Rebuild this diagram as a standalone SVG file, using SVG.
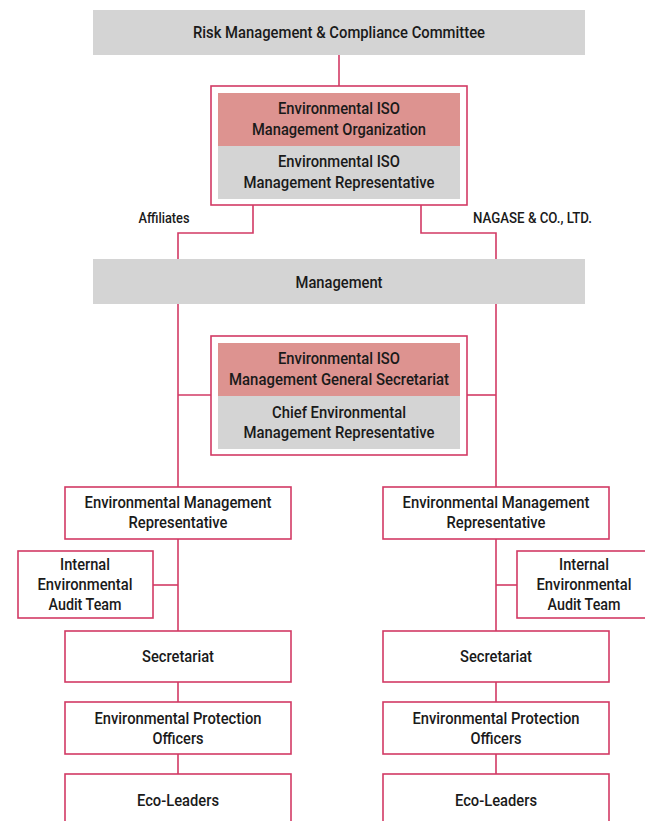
<svg xmlns="http://www.w3.org/2000/svg" width="645" height="821" viewBox="0 0 645 821">
<style>
text{font-family:Roboto,"Liberation Sans",sans-serif;font-weight:500;font-size:16.5px;fill:#1a1a1a;text-anchor:middle;dominant-baseline:central;lengthAdjust:spacingAndGlyphs}
.lbl{font-size:14.5px}
.gray{fill:#d4d4d4}
.pink{fill:#dd9390}
.frame{fill:#fff;stroke:#d23a64;stroke-width:1.6}
.box{fill:#fff;stroke:#d23a64;stroke-width:1.6}
.ln{fill:none;stroke:#d23a64;stroke-width:1.6}
</style>
<g id="connectors">
<path class="ln" d="M339 55V86"/>
<path class="ln" d="M253 205V233H178V259"/>
<path class="ln" d="M421 205V233H496V259"/>
<path class="ln" d="M178 304V487"/>
<path class="ln" d="M496 304V487"/>
<path class="ln" d="M178 395H211"/>
<path class="ln" d="M467 395H496"/>
<path class="ln" d="M178 539V631"/>
<path class="ln" d="M153 585H178"/>
<path class="ln" d="M496 539V631"/>
<path class="ln" d="M496 585H517"/>
<path class="ln" d="M178 682V702M178 754V774"/>
<path class="ln" d="M496 682V702M496 754V774"/>
</g>
<g id="risk">
<rect class="gray" x="93" y="10" width="492" height="45"/>
<text x="339" y="32" textLength="292" lengthAdjust="spacingAndGlyphs">Risk Management &amp; Compliance Committee</text>
</g>
<g id="iso-org">
<rect class="frame" x="211" y="86" width="256" height="119"/>
<rect class="pink" x="218" y="93" width="242" height="53"/>
<rect class="gray" x="218" y="146" width="242" height="53"/>
<text x="339" y="108" textLength="122" lengthAdjust="spacingAndGlyphs">Environmental ISO</text>
<text x="339" y="129" textLength="174" lengthAdjust="spacingAndGlyphs">Management Organization</text>
<text x="339" y="161" textLength="122" lengthAdjust="spacingAndGlyphs">Environmental ISO</text>
<text x="339" y="182" textLength="191" lengthAdjust="spacingAndGlyphs">Management Representative</text>
</g>
<g id="labels">
<text class="lbl" x="164" y="218" textLength="51" lengthAdjust="spacingAndGlyphs">Affiliates</text>
<text class="lbl" x="532.5" y="218" textLength="119" lengthAdjust="spacingAndGlyphs">NAGASE &amp; CO., LTD.</text>
</g>
<g id="management">
<rect class="gray" x="93" y="259" width="492" height="45"/>
<text x="339" y="282" textLength="87" lengthAdjust="spacingAndGlyphs">Management</text>
</g>
<g id="iso-secretariat">
<rect class="frame" x="211" y="336" width="256" height="119"/>
<rect class="pink" x="218" y="343" width="242" height="53"/>
<rect class="gray" x="218" y="396" width="242" height="53"/>
<text x="339" y="358" textLength="122" lengthAdjust="spacingAndGlyphs">Environmental ISO</text>
<text x="339" y="379" textLength="220" lengthAdjust="spacingAndGlyphs">Management General Secretariat</text>
<text x="339" y="412" textLength="134" lengthAdjust="spacingAndGlyphs">Chief Environmental</text>
<text x="339" y="432" textLength="191" lengthAdjust="spacingAndGlyphs">Management Representative</text>
</g>
<g id="emr-left">
<rect class="box" x="65" y="487" width="226" height="52"/>
<text x="178" y="502" textLength="187" lengthAdjust="spacingAndGlyphs">Environmental Management</text>
<text x="178" y="522" textLength="99" lengthAdjust="spacingAndGlyphs">Representative</text>
</g>
<g id="emr-right">
<rect class="box" x="383" y="487" width="226" height="52"/>
<text x="496" y="502" textLength="187" lengthAdjust="spacingAndGlyphs">Environmental Management</text>
<text x="496" y="522" textLength="99" lengthAdjust="spacingAndGlyphs">Representative</text>
</g>
<g id="audit-left">
<rect class="box" x="18" y="551" width="135" height="67"/>
<text x="85" y="564" textLength="50" lengthAdjust="spacingAndGlyphs">Internal</text>
<text x="85" y="584" textLength="95" lengthAdjust="spacingAndGlyphs">Environmental</text>
<text x="85" y="604" textLength="73" lengthAdjust="spacingAndGlyphs">Audit Team</text>
</g>
<g id="audit-right">
<rect class="box" x="517" y="551" width="135" height="67"/>
<text x="584" y="564" textLength="50" lengthAdjust="spacingAndGlyphs">Internal</text>
<text x="584" y="584" textLength="95" lengthAdjust="spacingAndGlyphs">Environmental</text>
<text x="584" y="604" textLength="73" lengthAdjust="spacingAndGlyphs">Audit Team</text>
</g>
<g id="sec-left">
<rect class="box" x="65" y="631" width="226" height="51"/>
<text x="178" y="656" textLength="72" lengthAdjust="spacingAndGlyphs">Secretariat</text>
</g>
<g id="sec-right">
<rect class="box" x="383" y="631" width="226" height="51"/>
<text x="496" y="656" textLength="72" lengthAdjust="spacingAndGlyphs">Secretariat</text>
</g>
<g id="epo-left">
<rect class="box" x="65" y="702" width="226" height="52"/>
<text x="178" y="718" textLength="167" lengthAdjust="spacingAndGlyphs">Environmental Protection</text>
<text x="178" y="738" textLength="51" lengthAdjust="spacingAndGlyphs">Officers</text>
</g>
<g id="epo-right">
<rect class="box" x="383" y="702" width="226" height="52"/>
<text x="496" y="718" textLength="167" lengthAdjust="spacingAndGlyphs">Environmental Protection</text>
<text x="496" y="738" textLength="51" lengthAdjust="spacingAndGlyphs">Officers</text>
</g>
<g id="eco-left">
<rect class="box" x="65" y="774" width="226" height="60"/>
<text x="178" y="800" textLength="82" lengthAdjust="spacingAndGlyphs">Eco-Leaders</text>
</g>
<g id="eco-right">
<rect class="box" x="383" y="774" width="226" height="60"/>
<text x="496" y="800" textLength="82" lengthAdjust="spacingAndGlyphs">Eco-Leaders</text>
</g>
</svg>
